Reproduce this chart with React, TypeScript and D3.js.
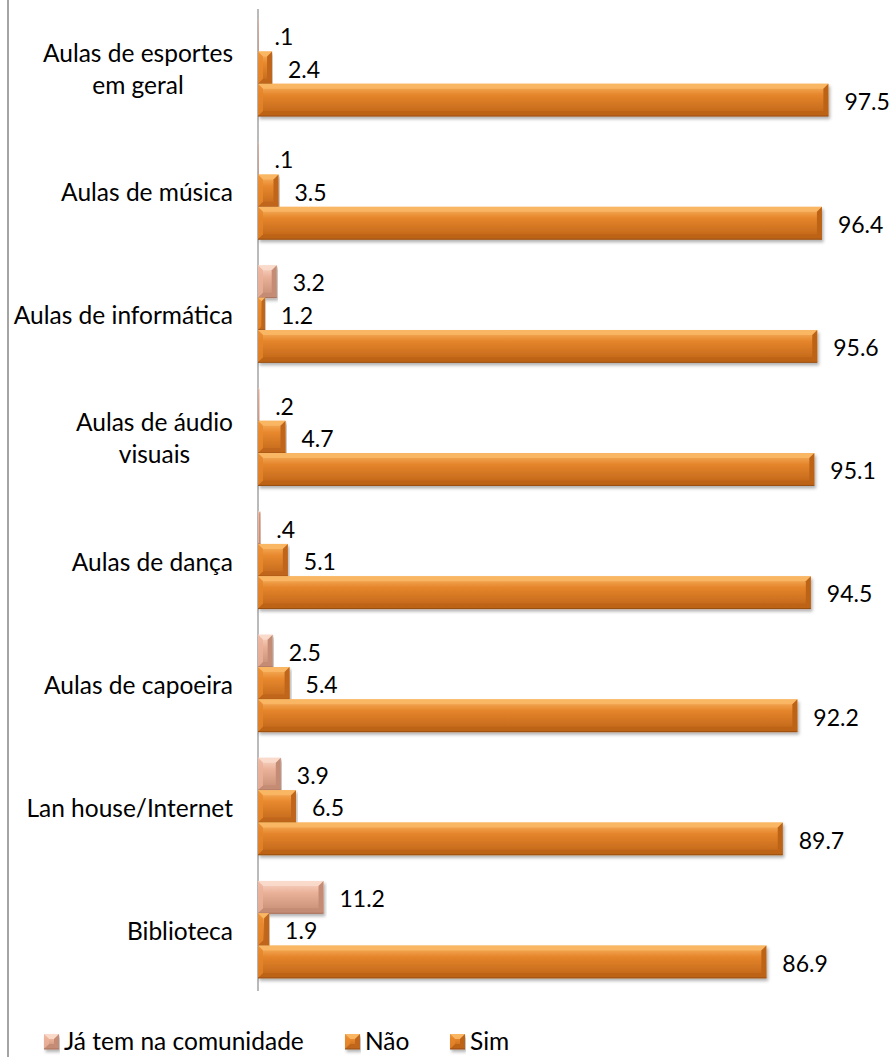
import React from "react";
import * as d3 from "d3";

const categories = [
  ["Aulas de esportes", "em geral"],
  ["Aulas de música"],
  ["Aulas de informática"],
  ["Aulas de áudio", "visuais"],
  ["Aulas de dança"],
  ["Aulas de capoeira"],
  ["Lan house/Internet"],
  ["Biblioteca"],
];
const seriesNames = ["Já tem na comunidade", "Não", "Sim"];
const jaTem = [0.1, 0.1, 3.2, 0.2, 0.4, 2.5, 3.9, 11.2];
const nao = [2.4, 3.5, 1.2, 4.7, 5.1, 5.4, 6.5, 1.9];
const sim = [97.5, 96.4, 95.6, 95.1, 94.5, 92.2, 89.7, 86.9];
const seriesValues = [jaTem, nao, sim];

const palettes = [
  { light: "#FADACB", mid: "#EBB29A", dark: "#C58C74", edge: "#A9715B" },
  { light: "#F9B765", mid: "#E8892E", dark: "#C0661A", edge: "#9A4F10" },
  { light: "#F9B765", mid: "#E5852B", dark: "#BD6318", edge: "#984D0F" },
];

const FONT = "Lato, 'Open Sans', sans-serif";
const CAT_SIZE = 24.5;
const VAL_SIZE = 23;

function fmt(v: number) {
  if (v < 1) return String(v).replace(/^0/, "");
  return v.toFixed(1);
}

let ctx: CanvasRenderingContext2D | null = null;
function measure(t: string, size: number) {
  if (!ctx) ctx = document.createElement("canvas").getContext("2d");
  if (!ctx) return t.length * size * 0.5;
  ctx.font = `${size}px Lato`;
  return ctx.measureText(t).width;
}

function Bevel({ x, y, w, h, p, id }: any) {
  if (w <= 0.3) return null;
  const b = Math.min(5, w / 2, h / 2);
  const x1 = x + w;
  const y1 = y + h;
  const pts = (arr: number[][]) => arr.map((q) => q.join(",")).join(" ");
  return (
    <g filter="url(#shadow)">
      <rect x={x} y={y} width={w} height={h} fill={`url(#grad${id})`} />
      <polygon points={pts([[x, y], [x1, y], [x1 - b, y + b], [x + b, y + b]])} fill={p.light} opacity={0.9} />
      <polygon points={pts([[x, y1], [x1, y1], [x1 - b, y1 - b], [x + b, y1 - b]])} fill={p.dark} />
      <polygon points={pts([[x, y], [x + b, y + b], [x + b, y1 - b], [x, y1]])} fill={p.mid} opacity={0.8} />
      <polygon points={pts([[x1, y], [x1, y1], [x1 - b, y1 - b], [x1 - b, y + b]])} fill={p.dark} />
      <line x1={x} x2={x1} y1={y1} y2={y1} stroke={p.edge} strokeWidth={1} />
    </g>
  );
}

export default function App() {
  const W = 892;
  const H = 1057;
  const axisX = 258;
  const x = d3.scaleLinear().domain([0, 100]).range([axisX, axisX + 585]);
  const y = d3
    .scaleBand<number>()
    .domain(d3.range(categories.length))
    .range([6, 991])
    .paddingInner(0.212)
    .paddingOuter(0.106);
  const inner = d3.scaleBand<number>().domain([0, 1, 2]).range([0, y.bandwidth()]);

  const legendItems = [
    { x: 44, label: seriesNames[0], s: 0 },
    { x: 345, label: seriesNames[1], s: 1 },
    { x: 450, label: seriesNames[2], s: 2 },
  ];

  const labelRight = 233;

  return (
    <svg width={W} height={H} style={{ position: "absolute", left: 0, top: 0, background: "#fff" }} fontFamily={FONT}>
      <defs>
        {palettes.map((p, i) => (
          <linearGradient key={i} id={`grad${i}`} x1="0" y1="0" x2="0" y2="1">
            <stop offset="0" stopColor={p.light} />
            <stop offset="0.35" stopColor={p.mid} />
            <stop offset="1" stopColor={p.dark} />
          </linearGradient>
        ))}
        <filter id="shadow" x="-5%" y="-20%" width="110%" height="160%">
          <feDropShadow dx="1.5" dy="2.5" stdDeviation="1.8" floodColor="#000" floodOpacity="0.3" />
        </filter>
      </defs>
      <rect x={0} y={0} width={W} height={H} fill="#fff" />
      <line x1={8} x2={8} y1={0} y2={H} stroke="#868686" strokeWidth={1.5} />
      <line x1={axisX} x2={axisX} y1={9} y2={991} stroke="#8c8c8c" strokeWidth={1.2} />

      {categories.map((lines, i) => {
        const gy = y(i)!;
        const cy = gy + y.bandwidth() / 2 + 1;
        const lh = 32;
        const maxW = Math.max(...lines.map((l) => measure(l, CAT_SIZE)));
        const cx = labelRight - maxW / 2;
        return (
          <g key={i}>
            {lines.map((ln, j) => (
              <text
                key={j}
                x={lines.length > 1 ? cx : labelRight}
                y={cy + (j - (lines.length - 1) / 2) * lh}
                textAnchor={lines.length > 1 ? "middle" : "end"}
                dominantBaseline="central"
                fontSize={CAT_SIZE}
                fill="#000"
              >
                {ln}
              </text>
            ))}
            {seriesValues.map((vals, s) => {
              const v = vals[i];
              const by = gy + inner(s)!;
              const bh = inner.bandwidth();
              return (
                <g key={s}>
                  <Bevel x={axisX} y={by} w={x(v) - axisX} h={bh} p={palettes[s]} id={s} />
                  <text
                    x={x(v) + 16}
                    y={by + bh / 2 + 1}
                    dominantBaseline="central"
                    fontSize={VAL_SIZE}
                    fill="#000"
                  >
                    {fmt(v)}
                  </text>
                </g>
              );
            })}
          </g>
        );
      })}

      {legendItems.map((it) => (
        <g key={it.s}>
          <Bevel x={it.x} y={1034} w={15} h={15} p={palettes[it.s]} id={it.s} />
          <text x={it.x + 20} y={1050} fontSize={CAT_SIZE} fill="#000">
            {it.label}
          </text>
        </g>
      ))}
    </svg>
  );
}
